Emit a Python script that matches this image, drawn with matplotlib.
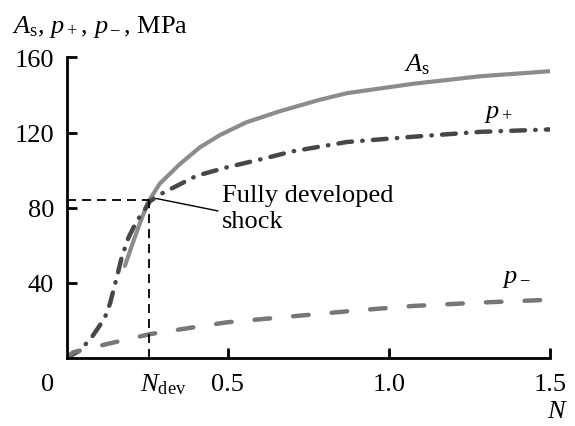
import matplotlib.pyplot as plt

plt.rcParams['font.family'] = ['Liberation Serif', 'DejaVu Serif']
plt.rcParams['mathtext.fontset'] = 'custom'
plt.rcParams['mathtext.rm'] = 'Liberation Serif'
plt.rcParams['mathtext.it'] = 'Liberation Serif:italic'

# values
n_as = [0.181, 0.202, 0.228, 0.253, 0.29, 0.352, 0.414, 0.476, 0.558, 0.662, 0.786, 0.87, 1.075, 1.283, 1.5]
a_s = [49, 59.5, 72, 83, 93, 103.3, 112.2, 118.7, 125.5, 131.4, 137.5, 141, 146, 150, 152.7]

n_pp = [0.0, 0.01, 0.042, 0.078, 0.104, 0.12, 0.135, 0.156, 0.171, 0.192, 0.218, 0.243, 0.259,
        0.30, 0.352, 0.403, 0.497, 0.62, 0.70, 0.87, 1.075, 1.283, 1.5]
p_plus = [0, 1, 4, 11, 17.5, 22, 29, 43, 53.5, 64, 73, 79, 83.5,
          88, 92.5, 97, 101.5, 106.5, 110, 115, 117.8, 120.4, 121.7]

n_pm = [0.0, 0.02, 0.125, 0.259, 0.393, 0.498, 0.715, 0.9, 1.075, 1.283, 1.5]
p_minus = [0, 3, 7.4, 12.7, 16.3, 19, 22.4, 25.3, 27.7, 29.5, 31]

n_dev = 0.256
a_dev = 84.2

fs = 19

fig = plt.figure(figsize=(5.75, 4.27), dpi=100)
ax = fig.add_axes([0.1157, 0.1593, 0.8408, 0.7037])

ax.plot(n_as, a_s, color='#8c8c8c', lw=3.0, solid_capstyle='round')
ax.plot(n_pp, p_plus, color='#474747', lw=3.2, dashes=(3.1, 2.3, 0.1, 2.3), dash_capstyle='round')
ax.plot(n_pm, p_minus, color='#777777', lw=3.2, dashes=(3.5, 5.2), dash_capstyle='round')

ax.plot([0, n_dev], [a_dev, a_dev], color='black', lw=1.3, dashes=(5, 3.3))
ax.plot([n_dev, n_dev], [0, a_dev], color='black', lw=1.3, dashes=(5, 3.3))

# annotation
ax.annotate('', xy=(0.279, 84.9), xytext=(0.47, 78.3),
            arrowprops=dict(arrowstyle='-', color='black', lw=1.0, shrinkA=0, shrinkB=0))
ax.text(0.481, 83.8, 'Fully developed', fontsize=fs, ha='left', va='baseline')
ax.text(0.481, 69.6, 'shock', fontsize=fs, ha='left', va='baseline')

ax.text(1.086, 156.8, r'$A_\mathrm{s}$', fontsize=fs, ha='center', va='center')
ax.text(1.34, 130.3, r'$p_+$', fontsize=fs, ha='center', va='center')
ax.text(1.396, 42.4, r'$p_-$', fontsize=fs, ha='center', va='center')

ax.set_xlim(0, 1.5)
ax.set_ylim(0, 160)
ax.spines['top'].set_visible(False)
ax.spines['right'].set_visible(False)
ax.spines['left'].set_linewidth(2.0)
ax.spines['bottom'].set_linewidth(2.0)

ax.set_xticks([0.5, 1.0, 1.5])
ax.set_xticklabels(['0.5', '1.0', '1.5'])
ax.set_yticks([40, 80, 120, 160])
ax.tick_params(direction='in', length=7, width=2.0, labelsize=fs)
ax.tick_params(axis='x', pad=11)
ax.tick_params(axis='y', pad=9)

ax.text(-0.059, -13.8, '0', fontsize=fs, ha='center', va='center', clip_on=False)
ax.text(0.228, -13.8, r'$N_\mathrm{dev}$', fontsize=fs, ha='left', va='center', clip_on=False)
fig.text(0.970, 0.036, r'$N$', fontsize=fs, ha='center', va='center')
fig.text(0.021, 0.937, r'$A_\mathrm{s},\,p_+,\,p_-$, MPa', fontsize=fs, ha='left', va='center')

fig.savefig('out.png', dpi=100)
